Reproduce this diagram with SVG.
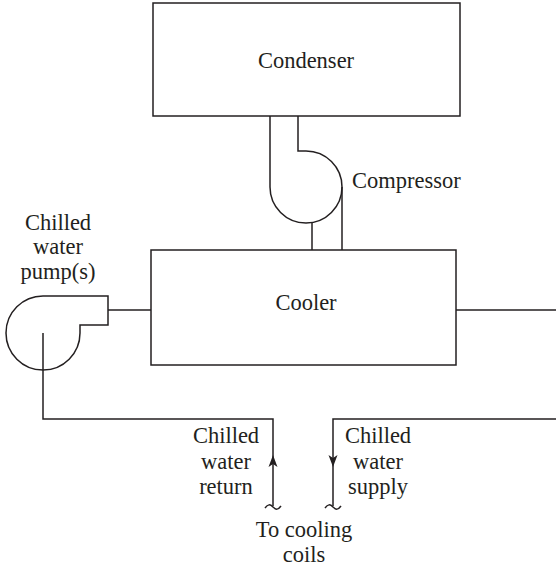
<svg xmlns="http://www.w3.org/2000/svg" width="556" height="569" viewBox="0 0 556 569">
<style>
.ln{fill:none;stroke:#231f20;stroke-width:1.5}
.bx{fill:#fff;stroke:#231f20;stroke-width:1.5}
.t{font-family:"Liberation Serif",serif;font-size:22.5px;fill:#231f20}
.m{text-anchor:middle}
.ah{fill:#231f20;stroke:none}
</style>
<rect width="556" height="569" fill="#fff"/>
<g id="condenser">
<rect class="bx" x="153" y="3" width="307" height="113"/>
<text class="t m" x="306" y="68">Condenser</text>
</g>
<g id="compressor">
<path class="ln" d="M298,116 V151 H306 A36,36 0 1 1 270,187 V116"/>
<text class="t" x="352" y="188">Compressor</text>
</g>
<g id="cooler">
<rect class="bx" x="151" y="250" width="305" height="115"/>
<text class="t m" x="306" y="310">Cooler</text>
</g>
<g id="pump">
<path class="ln" d="M80,325 V333 A37,37 0 1 1 43,296 H108 V325 Z"/>
<text class="t m" x="58" y="230">Chilled</text>
<text class="t m" x="58" y="254">water</text>
<text class="t m" x="58" y="279">pump(s)</text>
</g>
<g id="return-label">
<text class="t m" x="226" y="443">Chilled</text>
<text class="t m" x="226" y="469">water</text>
<text class="t m" x="226" y="494">return</text>
</g>
<g id="supply-label">
<text class="t m" x="378" y="443">Chilled</text>
<text class="t m" x="378" y="469">water</text>
<text class="t m" x="378" y="494">supply</text>
</g>
<g id="coils-label">
<text class="t m" x="304" y="537">To cooling</text>
<text class="t m" x="304" y="562">coils</text>
</g>
<g id="connectors">
<path class="ln" d="M342,187 V250"/>
<path class="ln" d="M312,222.5 V250"/>
<path class="ln" d="M108,310 H151"/>
<path class="ln" d="M456,310 H556"/>
<path class="ln" d="M43,333 V419 H273 V506"/>
<path class="ln" d="M556,419 H333 V506"/>
<path class="ln" d="M265,508 c3,-4 5,-4 8,-1 s5,3 8,-1"/>
<path class="ln" d="M325,508 c3,-4 5,-4 8,-1 s5,3 8,-1"/>
<path class="ah" d="M273,455 L277.5,467 L273,464 L268.5,467 Z"/>
<path class="ah" d="M333,467 L337.5,455 L333,458 L328.5,455 Z"/>
</g>
</svg>
